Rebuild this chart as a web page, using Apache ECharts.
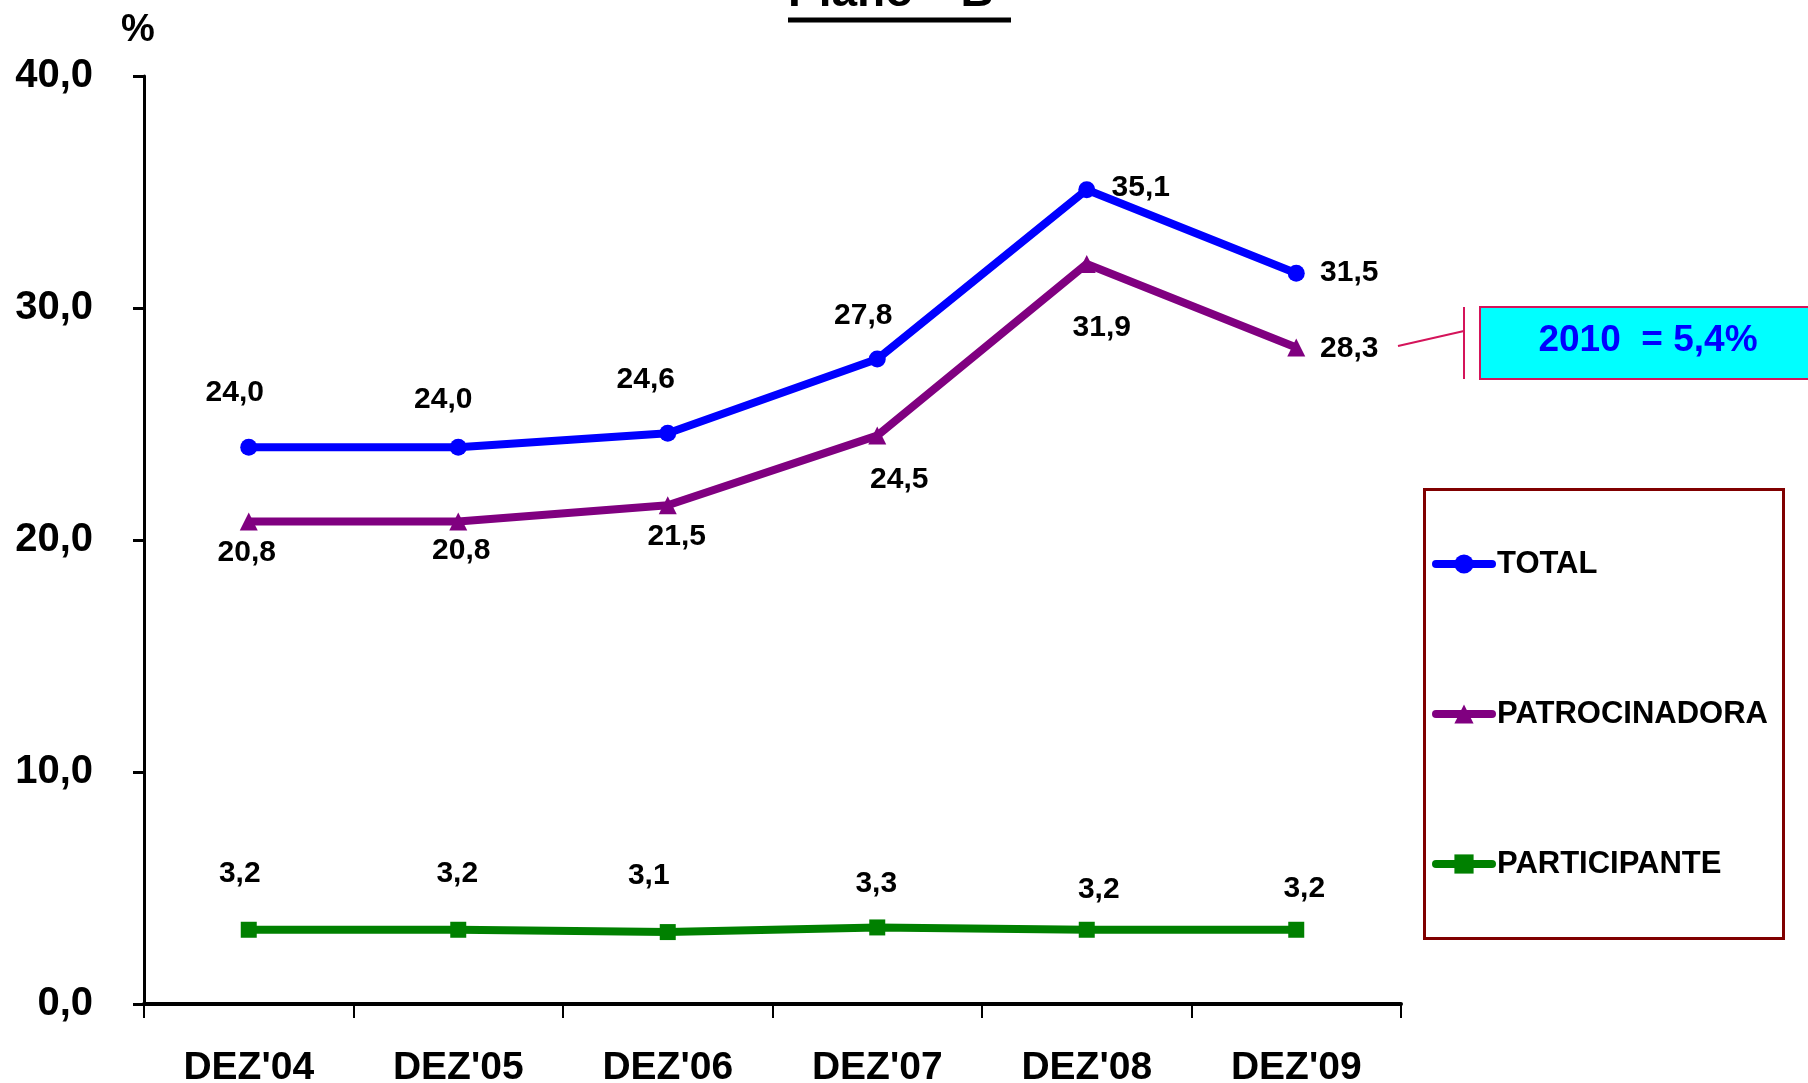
<!DOCTYPE html>
<html>
<head>
<meta charset="utf-8">
<script src="https://cdn.jsdelivr.net/npm/echarts@6/dist/echarts.min.js"></script>
<style>
html,body{margin:0;padding:0;background:#fff;}
#chart{width:1808px;height:1083px;}
</style>
</head>
<body>
<div id="chart"></div>
<script>
const categories = ["DEZ'04", "DEZ'05", "DEZ'06", "DEZ'07", "DEZ'08", "DEZ'09"];
const seriesNames = ['TOTAL', 'PATROCINADORA', 'PARTICIPANTE'];
const totalValues = [24.0, 24.0, 24.6, 27.8, 35.1, 31.5];
const patrocinadoraValues = [20.8, 20.8, 21.5, 24.5, 31.9, 28.3];
const participanteValues = [3.2, 3.2, 3.1, 3.3, 3.2, 3.2];
const yTicks = { min: 0, max: 40, interval: 10 };
const titleText = 'Plano  "B"';
const unitText = '%';
const noteText = '2010  = 5,4%';

// label offsets (layout only)
const totalOffsets = [[-14,-54],[-15,-47],[-22,-54],[-14,-43],[54,-2],[53,0]];
const patroOffsets = [[-2,31],[3,29],[9,32],[22,44],[15,64],[53,1]];
const partOffsets = [[-9,-56],[-1,-56],[-19,-56],[-1,-44],[12,-40],[8,-41]];

const FONT = 'Liberation Sans, Arial, Helvetica, sans-serif';
const fmt = v => v.toFixed(1).replace('.', ',');

function buildData(values, offsets) {
  return values.map((v, i) => ({
    value: v,
    label: { offset: offsets[i] }
  }));
}

function makeSeries(name, values, offsets, color, symbol, size) {
  return {
    name: name,
    type: 'line',
    data: buildData(values, offsets),
    symbol: symbol,
    symbolSize: size,
    showAllSymbol: true,
    lineStyle: { color: color, width: 8 },
    itemStyle: { color: color },
    label: {
      show: true,
      position: 'inside',
      formatter: p => fmt(p.value),
      color: '#000',
      fontFamily: FONT,
      fontWeight: 'bold',
      fontSize: 30
    },
    emphasis: { disabled: true },
    animation: false,
    z: 3
  };
}

const chart = echarts.init(document.getElementById('chart'), null, { renderer: 'canvas' });
chart.setOption({
  backgroundColor: '#ffffff',
  animation: false,
  grid: { left: 144, right: 407, top: 76, bottom: 79, containLabel: false, outerBoundsMode: 'none' },
  legend: {
    orient: 'vertical',
    left: 1432,
    top: 545,
    itemWidth: 56,
    itemHeight: 24,
    itemGap: 112,
    padding: 0,
    data: seriesNames,
    lineStyle: { width: 8, cap: 'round' },
    textStyle: { fontFamily: FONT, fontWeight: 'bold', fontSize: 31, color: '#000', lineHeight: 38 },
    selectedMode: false
  },
  xAxis: {
    type: 'category',
    data: categories,
    boundaryGap: true,
    axisLine: { lineStyle: { color: '#000', width: 4 } },
    axisTick: { show: true, length: 14, lineStyle: { color: '#000', width: 2 } },
    axisLabel: { color: '#000', fontFamily: FONT, fontWeight: 'bold', fontSize: 39, margin: 45 },
    splitLine: { show: false }
  },
  yAxis: {
    type: 'value',
    min: yTicks.min,
    max: yTicks.max,
    interval: yTicks.interval,
    axisLine: { show: true, lineStyle: { color: '#000', width: 3 } },
    axisTick: { show: true, length: 11, lineStyle: { color: '#000', width: 3 } },
    axisLabel: { color: '#000', fontFamily: FONT, fontWeight: 'bold', fontSize: 40, margin: 51, formatter: v => fmt(v) },
    splitLine: { show: false }
  },
  series: [
    makeSeries(seriesNames[0], totalValues, totalOffsets, '#0000FF', 'circle', 17),
    makeSeries(seriesNames[1], patrocinadoraValues, patroOffsets, '#800080', 'triangle', 18),
    makeSeries(seriesNames[2], participanteValues, partOffsets, '#008000', 'rect', 16)
  ],
  graphic: [
    { type: 'text', left: 788, top: -30, style: { text: titleText, font: 'bold 46px ' + FONT, fill: '#000' } },
    { type: 'line', shape: { x1: 788, y1: 20, x2: 1011, y2: 20 }, style: { stroke: '#000', lineWidth: 5 } },
    { type: 'text', x: 138, y: 31, style: { text: unitText, font: 'bold 38px ' + FONT, fill: '#000', align: 'center', verticalAlign: 'middle' } },
    { type: 'rect', shape: { x: 1424.5, y: 489.5, width: 359, height: 449 }, style: { fill: 'none', stroke: '#800000', lineWidth: 3 } },
    { type: 'line', shape: { x1: 1398, y1: 346, x2: 1464, y2: 331 }, style: { stroke: '#D4145A', lineWidth: 2 } },
    { type: 'line', shape: { x1: 1464, y1: 307, x2: 1464, y2: 379 }, style: { stroke: '#D4145A', lineWidth: 2 } },
    { type: 'rect', shape: { x: 1480, y: 307, width: 340, height: 72 }, style: { fill: '#00FFFF', stroke: '#D4145A', lineWidth: 2 } },
    { type: 'text', x: 1648, y: 341, style: { text: noteText, font: 'bold 37px ' + FONT, fill: '#0000FF', align: 'center', verticalAlign: 'middle' }, z: 10 }
  ]
});
</script>
</body>
</html>
